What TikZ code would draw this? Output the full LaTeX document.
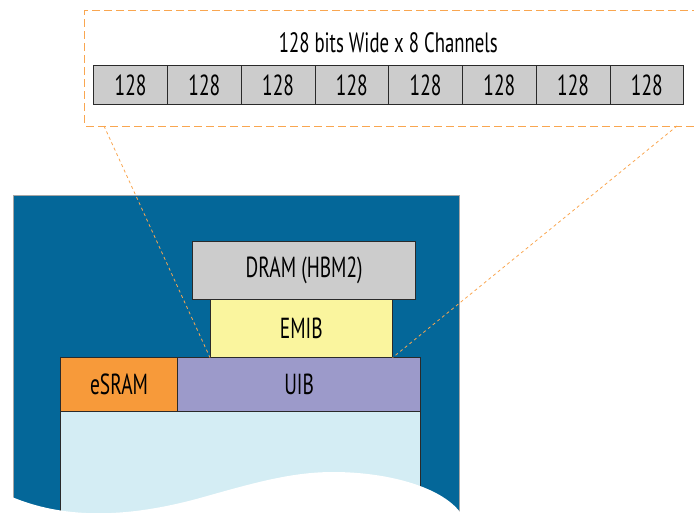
\documentclass[tikz,border=0pt]{standalone}
\usepackage{fontspec}
\setmainfont{PT Sans}[FakeStretch=0.67]
\definecolor{dblue}{HTML}{046799}
\definecolor{lblue}{HTML}{D4EDF4}
\definecolor{cgray}{HTML}{CCCCCC}
\definecolor{corange}{HTML}{F79A3A}
\definecolor{clav}{HTML}{9C9ACA}
\definecolor{cyel}{HTML}{FAF59E}
\definecolor{dorange}{HTML}{F9A650}
\definecolor{edge}{HTML}{2A2A2A}
\begin{document}
\begin{tikzpicture}[x=1pt,y=-1pt,
  blk/.style={draw=edge,line width=0.9pt,inner sep=0pt,anchor=north west,
    font=\fontsize{29}{31}\selectfont},
  cell/.style={blk,fill=cgray,minimum width=73.75pt,minimum height=39pt},
  zoomline/.style={draw=dorange,line width=0.8pt,dash pattern=on 3pt off 3pt},
  frameline/.style={draw=dorange,line width=1pt,dash pattern=on 8pt off 4pt}]
\useasboundingbox (0,0) rectangle (694,512);
% dashed frame
\draw[frameline] (700,10.7) -- (84.7,10.7) -- (84.7,126) -- (700,126);
\coordinate (lt) at (104,126);
\coordinate (rt) at (677,126);
\node[font=\fontsize{28}{30}\selectfont,inner sep=0pt] (title) at (388.3,43) {128 bits Wide x 8 Channels};
\foreach \i in {0,...,7}{
  \node[cell] (c\i) at ({93.3+73.75*\i},65) {128};
}
% package
\node[blk,draw=gray!70,fill=dblue,minimum width=446.6pt,minimum height=340pt] (pkg) at (12.7,194.7) {};
\node[blk,fill=lblue,minimum width=360pt,minimum height=130pt] (die) at (60,410.7) {};
\node[blk,fill=corange,minimum width=117.3pt,minimum height=54pt] (esram) at (60,356.7) {eSRAM};
\node[blk,fill=clav,minimum width=242.7pt,minimum height=54pt] (uib) at (177.3,356.7) {UIB};
\node[blk,fill=cyel,minimum width=181.7pt,minimum height=57.4pt] (emib) at (210,299.3) {EMIB};
\node[blk,fill=cgray,minimum width=222.7pt,minimum height=58.6pt] (dram) at (192.3,240.7) {DRAM (HBM2)};
% wavy cut
\fill[white] (12,497) .. controls (60,517) and (120,520) .. (200,498)
  .. controls (250,484) and (290,472) .. (333,472)
  .. controls (390,472) and (445,488) .. (462,515)
  -- (470,540) -- (0,540) -- cycle;
% zoom lines
\draw[zoomline] (lt) -- (emib.south west);
\draw[zoomline] (rt) -- (emib.south east);
\end{tikzpicture}
\end{document}
